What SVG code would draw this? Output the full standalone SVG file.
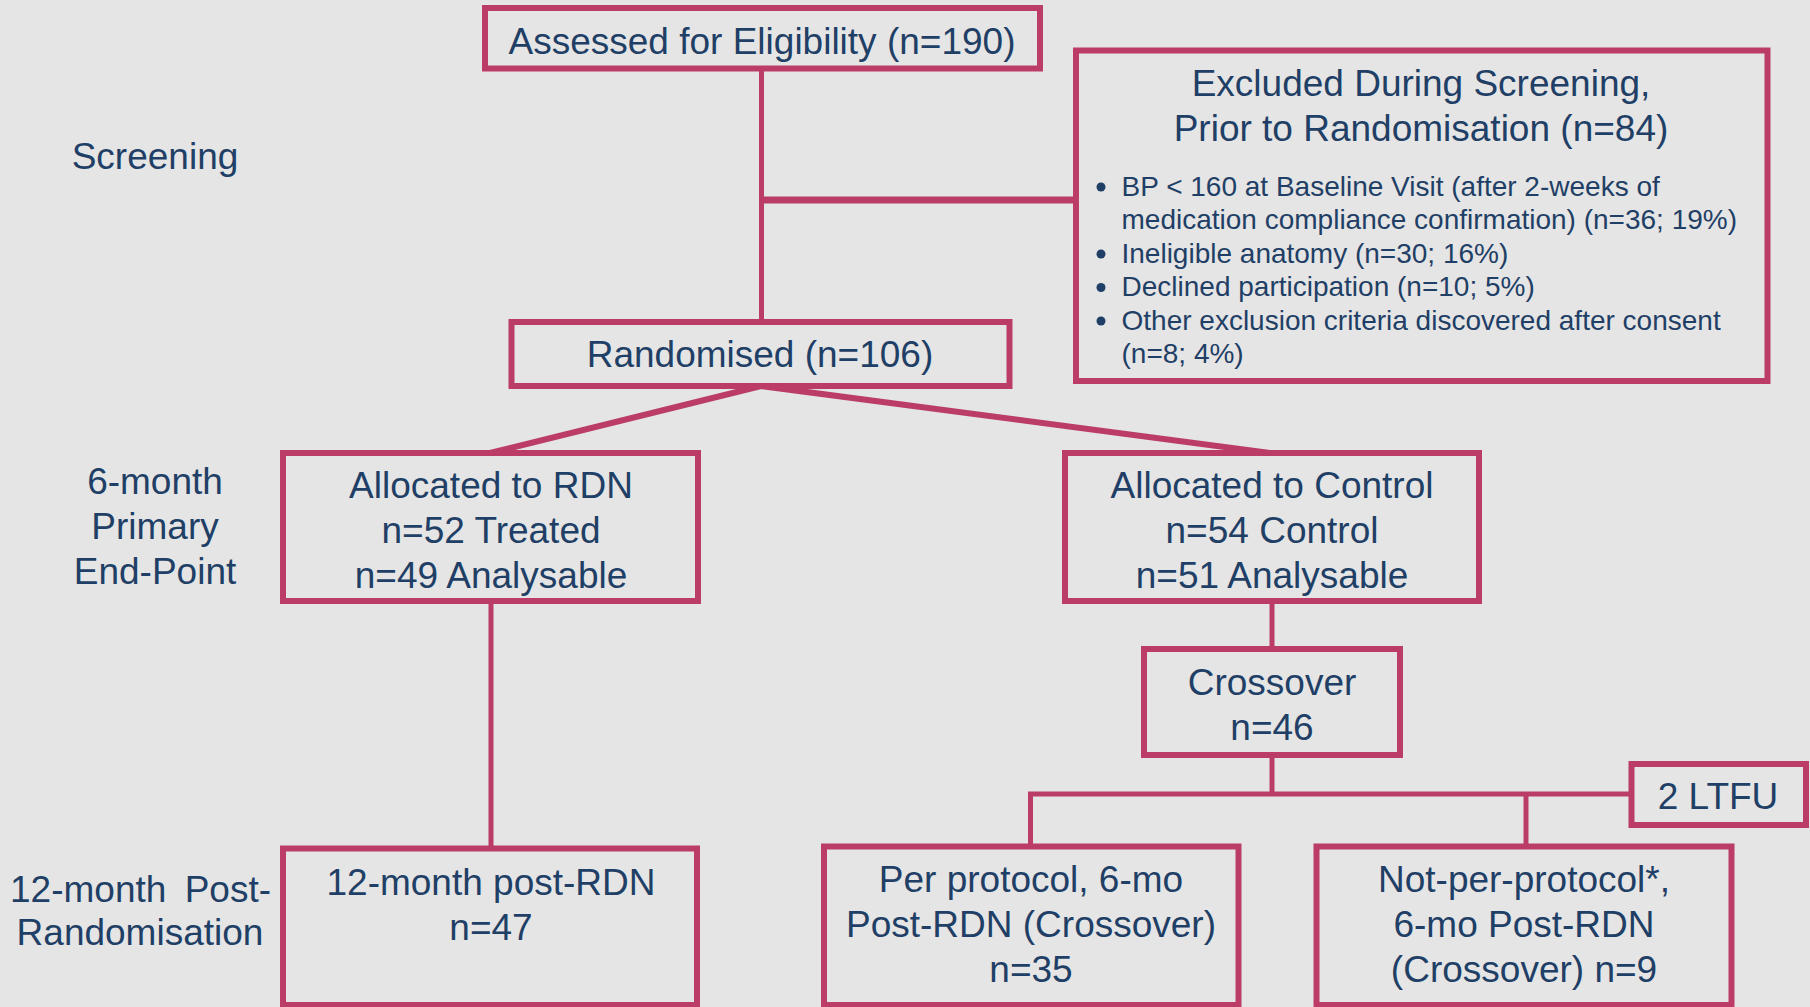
<svg xmlns="http://www.w3.org/2000/svg" width="1810" height="1007" viewBox="0 0 1810 1007">
  <style>
    .box { fill: #E5E5E5; stroke: #BB3D67; stroke-width: 6; }
    .ln { stroke: #BB3D67; fill: none; }
    .t { font-family: "Liberation Sans", Arial, sans-serif; font-size: 37px; fill: #1F3F66; text-anchor: middle; }
    .b { font-family: "Liberation Sans", Arial, sans-serif; font-size: 28px; fill: #1F3F66; }
    .dot { fill: #1F3F66; }
  </style>
  <rect width="1810" height="1007" fill="#E5E5E5"/>

  <g id="connectors">
    <line class="ln" x1="761.5" y1="68" x2="761.5" y2="322" stroke-width="5"/>
    <line class="ln" x1="761.5" y1="200" x2="1076" y2="200" stroke-width="7"/>
    <line class="ln" x1="761" y1="386" x2="490" y2="453" stroke-width="6"/>
    <line class="ln" x1="761" y1="386" x2="1270" y2="453" stroke-width="6"/>
    <line class="ln" x1="491" y1="601" x2="491" y2="848" stroke-width="5"/>
    <line class="ln" x1="1272" y1="601" x2="1272" y2="649" stroke-width="5"/>
    <line class="ln" x1="1272" y1="755" x2="1272" y2="794" stroke-width="5"/>
    <line class="ln" x1="1028" y1="794" x2="1632" y2="794" stroke-width="5"/>
    <line class="ln" x1="1030.5" y1="794" x2="1030.5" y2="847" stroke-width="5"/>
    <line class="ln" x1="1526" y1="794" x2="1526" y2="847" stroke-width="5"/>
  </g>

  <g id="labels">
    <text class="t" x="155" y="169">Screening</text>
    <text class="t" x="155" y="494">6-month</text>
    <text class="t" x="155" y="539">Primary</text>
    <text class="t" x="155" y="584">End-Point</text>
    <text class="t" y="902"><tspan x="10" text-anchor="start">12-month</tspan><tspan x="271" text-anchor="end">Post-</tspan></text>
    <text class="t" x="140" y="945">Randomisation</text>
  </g>

  <g id="assessed">
    <rect class="box" x="485" y="8" width="555" height="60.5"/>
    <text class="t" x="762" y="54">Assessed for Eligibility (n=190)</text>
  </g>

  <g id="excluded">
    <rect class="box" x="1076" y="50.5" width="691.5" height="330.5"/>
    <text class="t" x="1421" y="96">Excluded During Screening,</text>
    <text class="t" x="1421" y="141">Prior to Randomisation (n=84)</text>
    <circle class="dot" cx="1101" cy="187" r="4.5"/>
    <text class="b" x="1121.5" y="196">BP &lt; 160 at Baseline Visit (after 2-weeks of</text>
    <text class="b" x="1121.5" y="229">medication compliance confirmation) (n=36; 19%)</text>
    <circle class="dot" cx="1101" cy="254" r="4.5"/>
    <text class="b" x="1121.5" y="263">Ineligible anatomy (n=30; 16%)</text>
    <circle class="dot" cx="1101" cy="287.5" r="4.5"/>
    <text class="b" x="1121.5" y="296">Declined participation (n=10; 5%)</text>
    <circle class="dot" cx="1101" cy="321" r="4.5"/>
    <text class="b" x="1121.5" y="329.5">Other exclusion criteria discovered after consent</text>
    <text class="b" x="1121.5" y="363">(n=8; 4%)</text>
  </g>

  <g id="randomised">
    <rect class="box" x="511.5" y="322" width="498" height="64"/>
    <text class="t" x="760" y="367">Randomised (n=106)</text>
  </g>

  <g id="rdn">
    <rect class="box" x="283" y="453" width="415" height="148"/>
    <text class="t" x="491" y="498">Allocated to RDN</text>
    <text class="t" x="491" y="543">n=52 Treated</text>
    <text class="t" x="491" y="588">n=49 Analysable</text>
  </g>

  <g id="control">
    <rect class="box" x="1065" y="453" width="414" height="148"/>
    <text class="t" x="1272" y="498">Allocated to Control</text>
    <text class="t" x="1272" y="543">n=54 Control</text>
    <text class="t" x="1272" y="588">n=51 Analysable</text>
  </g>

  <g id="crossover">
    <rect class="box" x="1144" y="649" width="256" height="106"/>
    <text class="t" x="1272" y="695">Crossover</text>
    <text class="t" x="1272" y="740">n=46</text>
  </g>

  <g id="ltfu">
    <rect class="box" x="1631.5" y="764" width="174.5" height="61"/>
    <text class="t" x="1718" y="809">2 LTFU</text>
  </g>

  <g id="rdn12">
    <rect class="box" x="283" y="848.5" width="414" height="156.5"/>
    <text class="t" x="491" y="895">12-month post-RDN</text>
    <text class="t" x="491" y="940">n=47</text>
  </g>

  <g id="perprotocol">
    <rect class="box" x="824" y="846.5" width="414.5" height="158.5"/>
    <text class="t" x="1031" y="892">Per protocol, 6-mo</text>
    <text class="t" x="1031" y="937">Post-RDN (Crossover)</text>
    <text class="t" x="1031" y="982">n=35</text>
  </g>

  <g id="notperprotocol">
    <rect class="box" x="1316.5" y="846.5" width="415" height="158.5"/>
    <text class="t" x="1524" y="892">Not-per-protocol*,</text>
    <text class="t" x="1524" y="937">6-mo Post-RDN</text>
    <text class="t" x="1524" y="982">(Crossover) n=9</text>
  </g>
</svg>
